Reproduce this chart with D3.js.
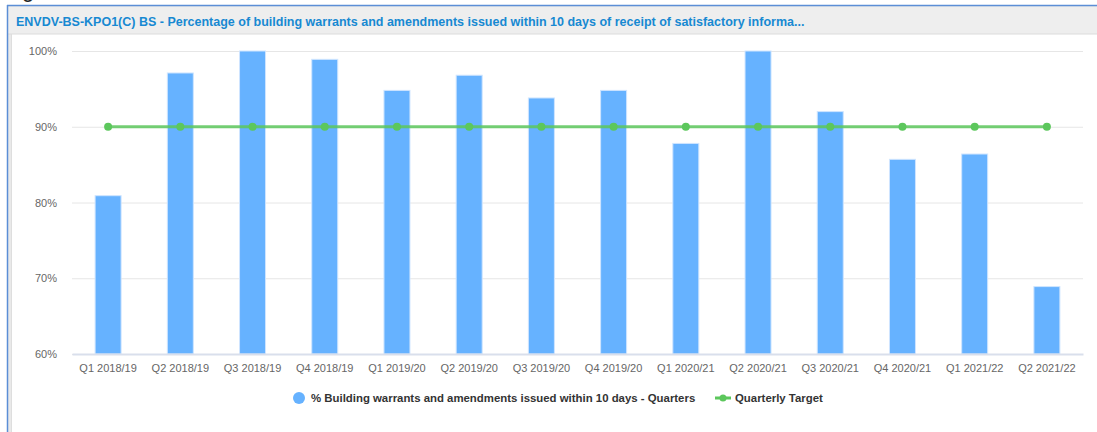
<!DOCTYPE html>
<html>
<head>
<meta charset="utf-8">
<script src="https://cdn.jsdelivr.net/npm/d3@7"></script>
<style>
  body { margin: 0; background: #fff; overflow: hidden; }
  svg { display: block; font-family: "Liberation Sans", Arial, sans-serif; }
</style>
</head>
<body>
<div id="chart"></div>
<script>
// chart data
var quarters = ["Q1 2018/19", "Q2 2018/19", "Q3 2018/19", "Q4 2018/19",
  "Q1 2019/20", "Q2 2019/20", "Q3 2019/20", "Q4 2019/20",
  "Q1 2020/21", "Q2 2020/21", "Q3 2020/21", "Q4 2020/21",
  "Q1 2021/22", "Q2 2021/22"];
var actual = [80.9, 97.1, 100, 98.9, 94.8, 96.8, 93.8, 94.8, 87.8, 100, 92.0, 85.7, 86.4, 68.9];
var target = [90, 90, 90, 90, 90, 90, 90, 90, 90, 90, 90, 90, 90, 90];
var yTicks = [60, 70, 80, 90, 100];

var titleText = "ENVDV-BS-KPO1(C) BS - Percentage of building warrants and amendments issued within 10 days of receipt of satisfactory informa...";
var barName = "% Building warrants and amendments issued within 10 days - Quarters";
var lineName = "Quarterly Target";

var W = 1097, H = 432;
var barColor = "#66b2ff";
var lineColor = "#5cc75c";

var svg = d3.select("#chart").append("svg")
  .attr("width", W)
  .attr("height", H);

// stray caption glyph above the panel
svg.append("text")
  .attr("x", 22).attr("y", -3)
  .style("font-size", "22px")
  .style("fill", "#222")
  .text("g");

// panel frame
svg.append("rect").attr("x", 7).attr("y", 5).attr("width", W).attr("height", H)
  .style("fill", "#e9e9e9");
svg.append("rect").attr("x", 12).attr("y", 34).attr("width", W).attr("height", H)
  .style("fill", "#fff");
svg.append("rect").attr("x", 8).attr("y", 7).attr("width", W).attr("height", 27)
  .style("fill", "#eeeeee");
svg.append("line").attr("x1", 8).attr("x2", W).attr("y1", 34).attr("y2", 34)
  .style("stroke", "#dcdcdc");
svg.append("line").attr("x1", 7).attr("x2", W).attr("y1", 5.5).attr("y2", 5.5)
  .style("stroke", "#5b8ed6").style("stroke-width", 1.5);
svg.append("line").attr("x1", 7.5).attr("x2", 7.5).attr("y1", 5).attr("y2", H)
  .style("stroke", "#5b8ed6").style("stroke-width", 1.5);
svg.append("line").attr("x1", 11.5).attr("x2", 11.5).attr("y1", 34).attr("y2", H)
  .style("stroke", "#dedede");

svg.append("text")
  .attr("x", 16).attr("y", 26)
  .style("font-size", "12.5px")
  .style("font-weight", "bold")
  .style("fill", "#1789d2")
  .text(titleText);

// plot
var plotLeft = 72, plotRight = 1083, plotTop = 51, plotBottom = 354;

var x = d3.scaleBand()
  .domain(quarters)
  .range([plotLeft, plotRight])
  .paddingInner(0.64)
  .paddingOuter(0.32);

var y = d3.scaleLinear()
  .domain([60, 100])
  .range([plotBottom, plotTop]);

// gridlines
svg.append("g")
  .attr("transform", "translate(" + plotLeft + ",0)")
  .call(d3.axisLeft(y).tickValues(yTicks).tickSize(-(plotRight - plotLeft)).tickFormat(""))
  .call(function(g) { g.select(".domain").remove(); })
  .selectAll("line")
  .style("stroke", "#e6e6e6");

// y labels
svg.append("g")
  .attr("transform", "translate(" + (plotLeft - 15) + ",0)")
  .call(d3.axisLeft(y).tickValues(yTicks).tickSize(0).tickPadding(0)
    .tickFormat(function(d) { return d + "%"; }))
  .call(function(g) { g.select(".domain").remove(); })
  .selectAll("text")
  .style("font-family", "Liberation Sans, Arial, sans-serif")
  .style("font-size", "11px")
  .style("fill", "#666");

// bars
svg.append("g").selectAll("rect")
  .data(actual)
  .enter().append("rect")
  .attr("x", function(d, i) { return x(quarters[i]); })
  .attr("y", function(d) { return y(d); })
  .attr("width", x.bandwidth())
  .attr("height", function(d) { return y(60) - y(d); })
  .style("fill", barColor)
  .style("stroke", "#cfe5ff")
  .style("stroke-width", 1);

// x axis
var xAxis = svg.append("g")
  .attr("transform", "translate(0," + plotBottom + ")")
  .call(d3.axisBottom(x).tickSize(0).tickPadding(10));
xAxis.select(".domain")
  .style("stroke", "#d9dfec")
  .style("stroke-width", 2);
xAxis.selectAll("text")
  .style("font-family", "Liberation Sans, Arial, sans-serif")
  .style("font-size", "11px")
  .style("fill", "#666");

// target line
var cx = function(d, i) { return x(quarters[i]) + x.bandwidth() / 2; };
var line = d3.line()
  .x(cx)
  .y(function(d) { return y(d); });

svg.append("path")
  .datum(target)
  .attr("d", line)
  .style("fill", "none")
  .style("stroke", lineColor)
  .style("stroke-opacity", 0.85)
  .style("stroke-width", 3);

svg.append("g").selectAll("circle")
  .data(target)
  .enter().append("circle")
  .attr("cx", cx)
  .attr("cy", function(d) { return y(d); })
  .attr("r", 4)
  .style("fill", lineColor);

// legend
var legend = svg.append("g").attr("transform", "translate(0,398)");
legend.append("circle")
  .attr("cx", 299).attr("cy", 0).attr("r", 6)
  .style("fill", barColor);
legend.append("text")
  .attr("x", 311).attr("y", 4)
  .style("font-size", "11.4px")
  .style("font-weight", "bold")
  .style("fill", "#333")
  .text(barName);
legend.append("line")
  .attr("x1", 715).attr("x2", 731).attr("y1", 0).attr("y2", 0)
  .style("stroke", lineColor)
  .style("stroke-width", 3);
legend.append("circle")
  .attr("cx", 723).attr("cy", 0).attr("r", 3.5)
  .style("fill", lineColor);
legend.append("text")
  .attr("x", 735).attr("y", 4)
  .style("font-size", "11.4px")
  .style("font-weight", "bold")
  .style("fill", "#333")
  .text(lineName);
</script>
</body>
</html>
